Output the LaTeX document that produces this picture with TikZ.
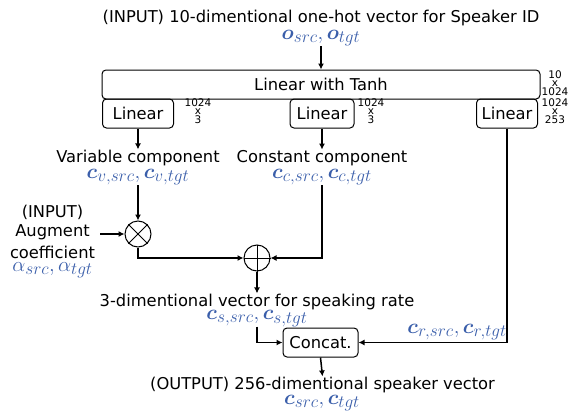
\documentclass[tikz,border=0pt]{standalone}
\usepackage{amsmath,bm}
\usepackage{fontspec}
\setmainfont{DejaVu Sans}
\usetikzlibrary{arrows.meta}
\DeclareMathSizes{20}{20}{17}{13}
\definecolor{mblue}{RGB}{58,94,170}
\tikzset{
  txt/.style={inner sep=0.5pt,font=\fontsize{16.3}{18}\selectfont},
  mth/.style={inner sep=0pt,text=mblue,font=\fontsize{20}{22}\selectfont},
  dim/.style={inner sep=0pt,align=center,font=\fontsize{10.5}{8.5}\selectfont},
  blk/.style={draw,rounded corners=4pt,inner sep=0pt,line width=1pt,font=\fontsize{16.3}{18}\selectfont},
  arr/.style={-{Latex[length=6pt,width=6pt]},line width=1.5pt},
  opc/.style={draw,circle,minimum size=26pt,inner sep=0pt,line width=1pt}
}
\begin{document}
\begin{tikzpicture}[x=1pt,y=-1pt]
\useasboundingbox (0,0) rectangle (569,412);
\node[txt] (title) at (321,18) {(INPUT) 10-dimentional one-hot vector for Speaker ID};
\node[mth] (osrc) at (321,38) {$\bm{o}_{src},\bm{o}_{tgt}$};
\node[blk,minimum width=438pt,minimum height=29pt] (tanh) at (321,84.5) {Linear with Tanh};
\node[dim] (d0) at (555,83) {10\\x\\1024};
\node[blk,minimum width=71pt,minimum height=29pt] (lin1) at (138,113.5) {Linear};
\node[blk,minimum width=64pt,minimum height=29pt] (lin2) at (322,113.5) {Linear};
\node[blk,minimum width=61pt,minimum height=29pt] (lin3) at (507,113.5) {Linear};
\node[dim] (d1) at (198,111) {1024\\x\\3};
\node[dim] (d2) at (371,111) {1024\\x\\3};
\node[dim] (d3) at (555,111) {1024\\x\\253};
\node[txt] (var) at (138,158) {Variable component};
\node[mth] (cv) at (138,177) {$\bm{c}_{v,src},\bm{c}_{v,tgt}$};
\node[txt] (const) at (322,158) {Constant component};
\node[mth] (cc) at (322,177) {$\bm{c}_{c,src},\bm{c}_{c,tgt}$};
\node[opc] (mul) at (138,234) {};
\draw[line width=1pt] (mul.north west) -- (mul.south east) (mul.north east) -- (mul.south west);
\node[opc] (plus) at (257,258) {};
\draw[line width=1pt] (plus.north) -- (plus.south) (plus.west) -- (plus.east);
\node[txt] (augin) at (52.5,212) {(INPUT)};
\node[txt] (aug) at (52.5,232) {Augment};
\node[txt] (coef) at (52.5,252) {coefficient};
\node[mth] (alpha) at (52.5,270) {$\alpha_{src},\alpha_{tgt}$};
\node[txt] (rate) at (257,302) {3-dimentional vector for speaking rate};
\node[mth] (cs) at (257,318.5) {$\bm{c}_{s,src},\bm{c}_{s,tgt}$};
\node[blk,minimum width=75pt,minimum height=29pt] (concat) at (320.5,342.5) {Concat.};
\node[mth,anchor=east] (cr) at (507,332) {$\bm{c}_{r,src},\bm{c}_{r,tgt}$};
\node[txt] (out) at (322.5,385) {(OUTPUT) 256-dimentional speaker vector};
\node[mth] (csrc) at (322,403) {$\bm{c}_{src},\bm{c}_{tgt}$};
\coordinate (augstart) at (100,234);
\draw[arr] (osrc) -- (tanh.north);
\draw[arr] (lin1.south) -- (var.north);
\draw[arr] (lin2.south) -- (const.north);
\draw[arr] (lin3.south) |- (concat.east);
\draw[arr] (cv.south) -- (mul.north);
\draw[arr] (augstart) -- (mul.west);
\draw[arr] (mul.south) |- (plus.west);
\draw[arr] (cc.south) |- (plus.east);
\draw[arr] (plus.south) -- (rate.north);
\draw[arr] (cs.south) |- (concat.west);
\draw[arr] (concat.south) -- (out.north);
\end{tikzpicture}
\end{document}
